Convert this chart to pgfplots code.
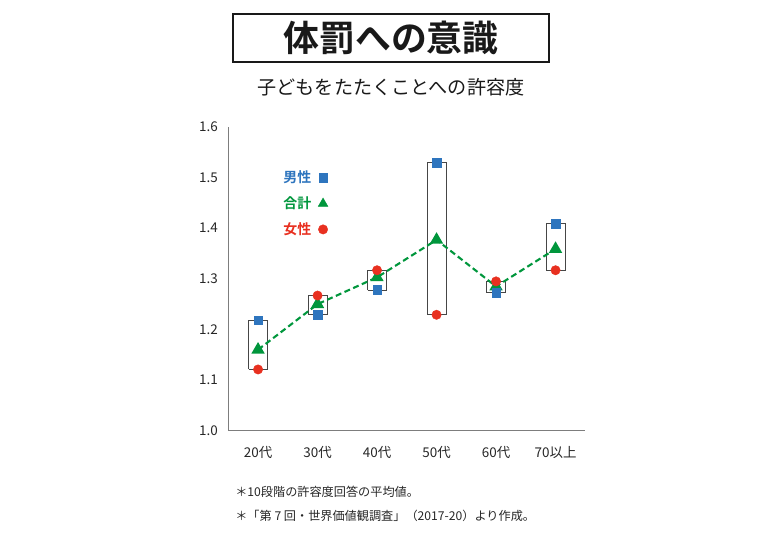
\documentclass[border=0pt]{standalone}
\usepackage{fontspec}
\setmainfont{Noto Sans CJK JP}[BoldFont={Noto Sans CJK JP Bold}]
\usepackage{pgfplots}
\pgfplotsset{compat=1.18}
\definecolor{mblue}{RGB}{46,117,190}
\definecolor{mgreen}{RGB}{0,150,60}
\definecolor{mred}{RGB}{232,48,32}
\definecolor{axgray}{RGB}{125,125,125}
\definecolor{boxgray}{RGB}{70,70,70}
\begin{document}
\begin{tikzpicture}[x=1bp,y=1bp]
\path[use as bounding box] (-228.3,-109.3) rectangle (551.7,430.7);
\begin{axis}[
  at={(0,0)}, anchor=south west,
  scale only axis, width=357bp, height=303.7bp,
  xmin=-0.5, xmax=5.5, ymin=1.0, ymax=1.6,
  axis x line=bottom, axis y line=left,
  axis line style={axgray, line width=1.3bp, -},
  xtick={0,1,2,3,4,5},
  xticklabels={20代,30代,40代,50代,60代,70以上},
  ytick={1.0,1.1,1.2,1.3,1.4,1.5,1.6},
  major tick length=0pt,
  /pgf/number format/assume math mode=true,
  /pgf/number format/fixed,
  /pgf/number format/fixed zerofill,
  /pgf/number format/precision=1,
  tick label style={font=\fontsize{13.5}{15}\selectfont, text=black!85},
  xticklabel style={yshift=-12bp},
  yticklabel style={xshift=-7bp},
  legend style={at={(0.148,0.862)}, anchor=north west, draw=none, fill=none,
    font=\fontsize{14}{16}\selectfont\bfseries, row sep=8.5bp, inner sep=0pt},
  legend plot pos=right,
  legend cell align=left,
]
% range boxes (min/max of male and female)
\addplot[boxgray, line width=0.8bp, forget plot] coordinates {(-0.16,1.121) (0.16,1.121) (0.16,1.218) (-0.16,1.218) (-0.16,1.121)};
\addplot[boxgray, line width=0.8bp, forget plot] coordinates {(0.84,1.229) (1.16,1.229) (1.16,1.267) (0.84,1.267) (0.84,1.229)};
\addplot[boxgray, line width=0.8bp, forget plot] coordinates {(1.84,1.278) (2.16,1.278) (2.16,1.317) (1.84,1.317) (1.84,1.278)};
\addplot[boxgray, line width=0.8bp, forget plot] coordinates {(2.84,1.229) (3.16,1.229) (3.16,1.530) (2.84,1.530) (2.84,1.229)};
\addplot[boxgray, line width=0.8bp, forget plot] coordinates {(3.84,1.273) (4.16,1.273) (4.16,1.295) (3.84,1.295) (3.84,1.273)};
\addplot[boxgray, line width=0.8bp, forget plot] coordinates {(4.84,1.317) (5.16,1.317) (5.16,1.409) (4.84,1.409) (4.84,1.317)};
% total
\addplot[mgreen, line width=2.1bp, dash pattern=on 6bp off 3.5bp, mark=triangle*, mark size=5.6bp,
  mark options={solid, fill=mgreen, draw=mgreen}, forget plot]
  coordinates {(0,1.160) (1,1.250) (2,1.303) (3,1.377) (4,1.285) (5,1.359)};
% male
\addplot[only marks, mark=square*, mark size=4.3bp, mark options={fill=mblue, draw=mblue}, forget plot]
  coordinates {(0,1.218) (1,1.229) (2,1.278) (3,1.530) (4,1.273) (5,1.409)};
% female
\addplot[only marks, mark=*, mark size=4.7bp, mark options={fill=mred, draw=mred}, forget plot]
  coordinates {(0,1.121) (1,1.267) (2,1.317) (3,1.229) (4,1.295) (5,1.317)};
% legend
\addlegendimage{only marks, mark=square*, mark size=4.3bp, mark options={fill=mblue, draw=mblue}}
\addlegendentry{\textcolor{mblue}{男性}\kern5bp\null}
\addlegendimage{only marks, mark=triangle*, mark size=5.6bp, mark options={fill=mgreen, draw=mgreen}}
\addlegendentry{\textcolor{mgreen}{合計}\kern5bp\null}
\addlegendimage{only marks, mark=*, mark size=4.7bp, mark options={fill=mred, draw=mred}}
\addlegendentry{\textcolor{mred}{女性}\kern5bp\null}
\end{axis}
\node[draw=black!90, line width=2bp, minimum width=316bp, minimum height=48bp,
  font=\fontsize{36}{38}\selectfont\bfseries, text=black!90] at (162.7,392.7) {体罰への意識};
\node[font=\fontsize{19.2}{21}\selectfont, text=black!90] at (162.7,343.7) {子どもをたたくことへの許容度};
\node[anchor=west, font=\fontsize{12.2}{14}\selectfont, text=black!85] at (3.5,-61.3) {＊10段階の許容度回答の平均値。};
\node[anchor=west, font=\fontsize{12.2}{14}\selectfont, text=black!85] at (3.5,-85.3) {＊「第 7 回・世界価値観調査」（2017-20）より作成。};
\end{tikzpicture}
\end{document}
